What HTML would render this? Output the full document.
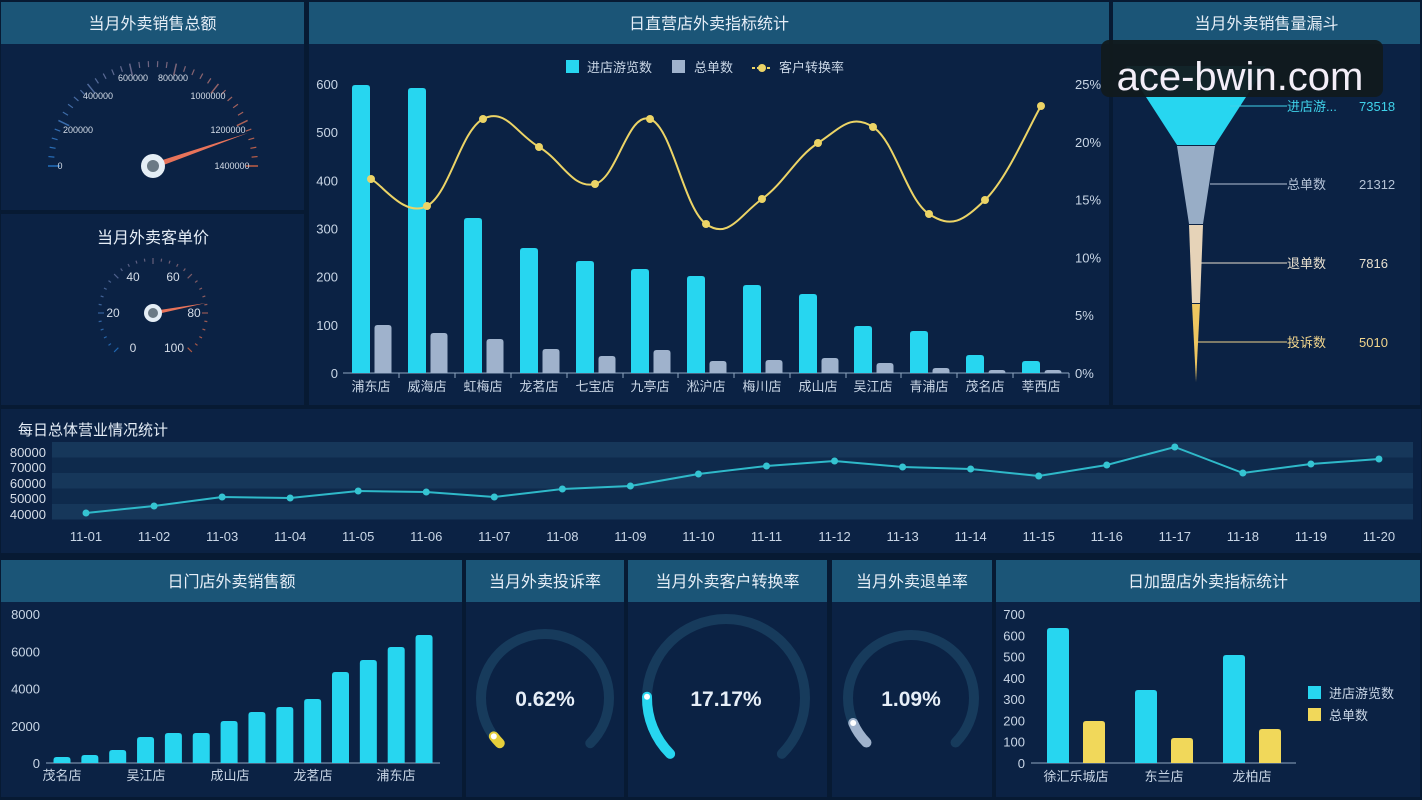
<!DOCTYPE html>
<html><head><meta charset="utf-8"><style>
html,body{margin:0;padding:0;background:#071a33;}
svg{display:block;font-family:"Liberation Sans","Noto Sans CJK SC",sans-serif;}
</style></head><body>
<svg id="s" width="1422" height="800" viewBox="0 0 1422 800" xmlns="http://www.w3.org/2000/svg">
<rect width="1422" height="800" fill="#071a33"/>
<g id="panels"></g>
<g id="content"></g>
</svg>
<script>
const NS="http://www.w3.org/2000/svg";
const P=document.getElementById('panels'),C=document.getElementById('content');
function el(t,a,parent,txt){const e=document.createElementNS(NS,t);for(const k in a)e.setAttribute(k,a[k]);if(txt!==undefined)e.textContent=txt;(parent||C).appendChild(e);return e;}
function txt(x,y,s,o){o=o||{};return el('text',Object.assign({x:x,y:y,fill:o.fill||'#c9d6e6','font-size':o.size||13,'text-anchor':o.anchor||'middle','font-weight':o.weight||'normal'},o.extra||{}),C,s);}
// panels
const panelFill='#0b2244',titleFill='#1b5577';
function panel(x,y,w,h,title,ty){el('rect',{x:x,y:y,width:w,height:h,fill:panelFill},P);
 if(title){el('rect',{x:x,y:y,width:w,height:42,fill:titleFill},P);el('text',{x:x+w/2,y:y+27,fill:'#e6eef7','font-size':16,'text-anchor':'middle'},P,title);}}
panel(1,2,303,208,'当月外卖销售总额');
panel(1,214,303,191,null);
panel(309,2,800,403,'日直营店外卖指标统计');
panel(1113,2,307,403,'当月外卖销售量漏斗');
panel(1,409,1420,144,null);
panel(1,560,461,237,'日门店外卖销售额');
panel(466,560,158,237,'当月外卖投诉率');
panel(628,560,199,237,'当月外卖客户转换率');
panel(832,560,160,237,'当月外卖退单率');
panel(996,560,424,237,'日加盟店外卖指标统计');
txt(153,243,'当月外卖客单价',{size:16,fill:'#e6eef7'});

// gauge 1
function lerpColor(t){const a=[40,130,220],b=[240,110,70];return `rgb(${a.map((v,i)=>Math.round(v+(b[i]-v)*t)).join(',')})`;}
(function(){const cx=153,cy=166,r=105;const n=35;
for(let i=0;i<=n;i++){const ang=Math.PI-(Math.PI*i/n);const big=i%5==0;const r1=big?r-12:r-6;
 el('line',{x1:cx+r*Math.cos(ang),y1:cy-r*Math.sin(ang),x2:cx+r1*Math.cos(ang),y2:cy-r1*Math.sin(ang),stroke:lerpColor(i/n),'stroke-width':big?1.5:1.2,opacity:0.8});}
const labs=[['0',60,169],['200000',78,133],['400000',98,99],['600000',133,81],['800000',173,81],['1000000',208,99],['1200000',228,133],['1400000',232,169]];
labs.forEach(l=>txt(l[1],l[2],l[0],{size:9,fill:'#d5dde8'}));
el('polygon',{points:`${cx},${cy-3} ${cx},${cy+3} 248,133`,fill:'#e8735a'});
el('circle',{cx:cx,cy:cy,r:12,fill:'#e5eef5'});el('circle',{cx:cx,cy:cy,r:6,fill:'#6b7a85'});
})();
// gauge 2
(function(){const cx=153,cy=313,r=55;const n=30;
for(let i=0;i<=n;i++){const ang=(225-270*i/n)*Math.PI/180;const big=i%5==0;const r1=big?r-6:r-3;
 el('line',{x1:cx+r*Math.cos(ang),y1:cy-r*Math.sin(ang),x2:cx+r1*Math.cos(ang),y2:cy-r1*Math.sin(ang),stroke:lerpColor(i/n),'stroke-width':1.2,opacity:0.7});}
[['0',133,352],['20',113,317],['40',133,281],['60',173,281],['80',194,317],['100',174,352]].forEach(l=>txt(l[1],l[2],l[0],{size:12,fill:'#d5dde8'}));
el('polygon',{points:`${cx},${cy-2} ${cx},${cy+2} 206,303`,fill:'#e8735a'});
el('circle',{cx:cx,cy:cy,r:9,fill:'#e5eef5'});el('circle',{cx:cx,cy:cy,r:5,fill:'#6b7a85'});
})();

// main chart
(function(){const y0=373,k=(373-84)/600;
for(let v=0;v<=600;v+=100){txt(338,y0-v*k+5,String(v),{size:13,anchor:'end'});}
for(let p=0;p<=25;p+=5){txt(1075,y0-p/25*289+5,p+'%',{size:13,anchor:'start'});}
el('line',{x1:343,y1:373,x2:1069,y2:373,stroke:'#8fa6c0','stroke-width':1});
const names=['浦东店','威海店','虹梅店','龙茗店','七宝店','九亭店','淞沪店','梅川店','成山店','吴江店','青浦店','茂名店','莘西店'];
const xs=[371,427,483,539,595,650,706,762,818,873,929,985,1041];
const ct=[85,88,218,248,261,269,276,285,294,326,331,355,361];
const gt=[325,333,339,349,356,350,361,360,358,363,368,370,370];
function bar(cx,top,w,fill){const x=cx-w/2,h=373-top;el('path',{d:`M${x},373 V${top+3} Q${x},${top} ${x+3},${top} H${x+w-3} Q${x+w},${top} ${x+w},${top+3} V373 Z`,fill:fill});}
xs.forEach((x,i)=>{bar(x-10,ct[i],18,'#27d6f0');bar(x+12,gt[i],17,'#9fb2cc');
 el('line',{x1:x+28,y1:373,x2:x+28,y2:378,stroke:'#8fa6c0'});
 txt(x,391,names[i],{size:13});});
const ly=[179,206,119,147,184,119,224,199,143,127,214,200,106];
const pts=xs.map((x,i)=>[x,ly[i]]);
let d=`M${pts[0][0]},${pts[0][1]}`;
for(let i=0;i<pts.length-1;i++){const p0=pts[i-1]||pts[i],p1=pts[i],p2=pts[i+1],p3=pts[i+2]||p2;const t=0.2;
 d+=` C${p1[0]+(p2[0]-p0[0])*t},${p1[1]+(p2[1]-p0[1])*t} ${p2[0]-(p3[0]-p1[0])*t},${p2[1]-(p3[1]-p1[1])*t} ${p2[0]},${p2[1]}`;}
el('path',{d:d,fill:'none',stroke:'#ecd466','stroke-width':2});
pts.forEach(p=>el('circle',{cx:p[0],cy:p[1],r:4,fill:'#ecd466'}));
// legend
el('rect',{x:566,y:60,width:13,height:13,fill:'#27d6f0'});txt(587,72,'进店游览数',{size:13,anchor:'start'});
el('rect',{x:672,y:60,width:13,height:13,fill:'#9fb2cc'});txt(694,72,'总单数',{size:13,anchor:'start'});
el('line',{x1:752,y1:68,x2:772,y2:68,stroke:'#ecd466','stroke-width':2,'stroke-dasharray':'3,2'});el('circle',{cx:762,cy:68,r:4,fill:'#ecd466'});
txt(779,72,'客户转换率',{size:13,anchor:'start'});
})();

// funnel
(function(){const cx=1196;
el('polygon',{points:'1126,66 1266,66 1215,145 1177,145',fill:'#27d6f0'});
el('polygon',{points:'1177,146 1215,146 1203,224 1189,224',fill:'#98adc6'});
el('polygon',{points:'1189,225 1203,225 1200,303 1192,303',fill:'#e6d3b8'});
el('polygon',{points:'1192,304 1200,304 1196,382',fill:'#eec660'});
const rows=[[106,'进店游...','73518','#3fd2ea',1230],[184,'总单数','21312','#b4c2d6',1210],[263,'退单数','7816','#e8e0d0',1201],[342,'投诉数','5010','#f0d48c',1198]];
rows.forEach(r=>{el('line',{x1:r[4],y1:r[0],x2:1287,y2:r[0],stroke:r[3],'stroke-width':1});
 txt(1287,r[0]+5,r[1],{size:13,anchor:'start',fill:r[3]});txt(1359,r[0]+5,r[2],{size:13,anchor:'start',fill:r[3]});});
})();

// daily chart
(function(){txt(18,435,'每日总体营业情况统计',{size:15,anchor:'start',fill:'#e6eef7'});
for(let i=0;i<5;i++){el('rect',{x:52,y:442+i*15.5,width:1361,height:15.5,fill:i%2==0?'#16375a':'#0e2a4c'});}
[['80000',457],['70000',472],['60000',488],['50000',503],['40000',519]].forEach(l=>txt(46,l[1],l[0],{size:13,anchor:'end',fill:'#d5dde8'}));
const ys=[513,506,497,498,491,492,497,489,486,474,466,461,467,469,476,465,447,473,464,459];
const pts=ys.map((y,i)=>[86+68.05*i,y]);
el('polyline',{points:pts.map(p=>p.join(',')).join(' '),fill:'none',stroke:'#2fb9c9','stroke-width':2});
pts.forEach((p,i)=>{el('circle',{cx:p[0],cy:p[1],r:3.5,fill:'#35c4d2'});
 txt(p[0],541,'11-'+String(i+1).padStart(2,'0'),{size:13,fill:'#c9d6e6'});});
})();

// bottom-left bars
(function(){const y0=763,k=(763-614)/8000;
[0,2000,4000,6000,8000].forEach(v=>txt(40,y0-v*k+5,String(v),{size:13,anchor:'end'}));
el('line',{x1:46,y1:763,x2:440,y2:763,stroke:'#8fa6c0'});
const tops=[757,755,750,737,733,733,721,712,707,699,672,660,647,635];
tops.forEach((t,i)=>{const x=62+27.85*i;el('path',{d:`M${x-8.5},763 V${t+3} Q${x-8.5},${t} ${x-5.5},${t} H${x+5.5} Q${x+8.5},${t} ${x+8.5},${t+3} V763 Z`,fill:'#27d6f0'});});
[['茂名店',62],['吴江店',146],['成山店',230],['龙茗店',313],['浦东店',396]].forEach(l=>txt(l[1],780,l[0],{size:13}));
})();

// ring gauges
function ring(cx,cy,r,frac,color,label){const rad=a=>a*Math.PI/180;
 function arc(a0,a1){const x0=cx+r*Math.cos(rad(a0)),y0=cy-r*Math.sin(rad(a0)),x1=cx+r*Math.cos(rad(a1)),y1=cy-r*Math.sin(rad(a1));const large=(a0-a1)>180?1:0;return `M${x0},${y0} A${r},${r} 0 ${large} 1 ${x1},${y1}`;}
 el('path',{d:arc(225,-45),fill:'none',stroke:'#173b5c','stroke-width':10,'stroke-linecap':'round'});
 const a1=225-270*frac;
 el('path',{d:arc(225,a1),fill:'none',stroke:color,'stroke-width':10,'stroke-linecap':'round'});
 el('circle',{cx:cx+r*Math.cos(rad(a1)),cy:cy-r*Math.sin(rad(a1)),r:3,fill:'#ffffff'});
 txt(cx,cy+8,label,{size:21,weight:'bold',fill:'#e6eef7'});}
ring(545,698,64,0.03,'#e6cf3a','0.62%');
ring(726,698,79,0.17,'#27d6f0','17.17%');
ring(911,698,63,0.08,'#9fb2cc','1.09%');

// bottom-right bars
(function(){const y0=763,k=(763-614)/700;
for(let v=0;v<=700;v+=100)txt(1025,y0-v*k+5,String(v),{size:13,anchor:'end'});
el('line',{x1:1031,y1:763,x2:1296,y2:763,stroke:'#8fa6c0'});
function bar(cx,t,f){el('path',{d:`M${cx-11},763 V${t+3} Q${cx-11},${t} ${cx-8},${t} H${cx+8} Q${cx+11},${t} ${cx+11},${t+3} V763 Z`,fill:f});}
[[1058,628,1094,721],[1146,690,1182,738],[1234,655,1270,729]].forEach(b=>{bar(b[0],b[1],'#27d6f0');bar(b[2],b[3],'#f1d85a');});
[['徐汇乐城店',1076],['东兰店',1164],['龙柏店',1252]].forEach(l=>txt(l[1],781,l[0],{size:13}));
el('rect',{x:1308,y:686,width:13,height:13,fill:'#27d6f0'});txt(1329,698,'进店游览数',{size:13,anchor:'start'});
el('rect',{x:1308,y:708,width:13,height:13,fill:'#f1d85a'});txt(1329,720,'总单数',{size:13,anchor:'start'});
})();

// watermark
el('rect',{x:1101,y:40,width:282,height:57,rx:8,fill:'#111a1e',opacity:0.95});
txt(1240,90,'ace-bwin.com',{size:40,fill:'#f3eef8'});
</script>
</body></html>
